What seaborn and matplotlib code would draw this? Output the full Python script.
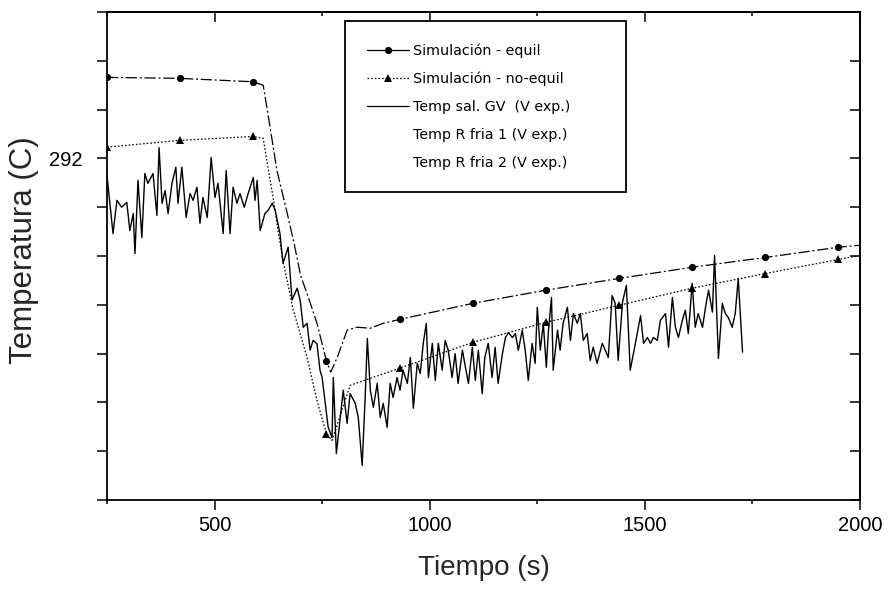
import numpy as np
import matplotlib
matplotlib.use("Agg")
import matplotlib.pyplot as plt
import seaborn as sns
from matplotlib.lines import Line2D
from matplotlib.ticker import MultipleLocator, FixedLocator, FuncFormatter

# ---------------- data ----------------
equil_t = [250, 420, 590, 613, 629, 645, 669, 685, 700, 720, 738, 760, 770, 785, 808, 831,
           862, 892, 930, 1100, 1270, 1440, 1610, 1780, 1950, 2000]
equil_T = [293.66, 293.64, 293.57, 293.50, 292.64, 291.75, 290.87, 290.25, 289.60, 289.10,
           288.62, 287.85, 287.62, 287.92, 288.48, 288.54, 288.52, 288.62, 288.70, 289.03,
           289.30, 289.54, 289.77, 289.97, 290.18, 290.22]

noeq_t = [250, 420, 590, 613, 624, 636, 648, 659, 683, 715, 738, 760, 773, 815, 930,
          1100, 1270, 1440, 1610, 1780, 1950, 2000]
noeq_T = [292.23, 292.37, 292.45, 292.41, 291.82, 291.20, 290.50, 289.90, 288.89, 287.92,
          287.04, 286.36, 286.22, 287.35, 287.70, 288.23, 288.64, 288.99, 289.34, 289.64,
          289.93, 290.01]

marker_t = [250, 420, 590, 760, 930, 1100, 1270, 1440, 1610, 1780, 1950]

exp_t = [250, 264, 273, 284, 296, 303, 311, 315, 322, 331, 338, 345, 357, 366, 371, 378,
         385, 392, 401, 410, 415, 424, 434, 443, 450, 459, 466, 473, 483, 492, 501, 508,
         520, 527, 536, 543, 552, 559, 569, 578, 590, 594, 599, 606, 617, 624, 634, 641,
         652, 659, 671, 680, 692, 699, 706, 715, 722, 729, 738, 745, 750, 764, 773, 776,
         783, 792, 799, 808, 815, 827, 834, 843, 850, 855, 862, 869, 878, 885, 892, 901,
         908, 915, 924, 931, 938, 948, 955, 962, 971, 978, 985, 992, 997, 1006, 1013, 1020,
         1029, 1036, 1043, 1052, 1059, 1066, 1076, 1083, 1090, 1099, 1106, 1113, 1122, 1128,
         1136, 1145, 1152, 1159, 1169, 1176, 1183, 1192, 1199, 1206, 1215, 1222, 1229, 1238,
         1245, 1250, 1257, 1264, 1271, 1276, 1283, 1287, 1297, 1303, 1310, 1320, 1327, 1334,
         1343, 1350, 1357, 1366, 1373, 1380, 1389, 1401, 1408, 1415, 1424, 1431, 1438, 1448,
         1457, 1466, 1478, 1490, 1497, 1506, 1513, 1520, 1529, 1536, 1548, 1555, 1564, 1571,
         1578, 1587, 1594, 1601, 1610, 1617, 1624, 1634, 1641, 1648, 1657, 1662, 1671, 1680,
         1687, 1694, 1703, 1710, 1717, 1727]
exp_T = [291.65, 290.46, 291.14, 291.00, 291.10, 290.52, 290.87, 290.05, 291.55, 290.38,
         291.69, 291.49, 291.69, 290.83, 292.22, 291.08, 291.34, 290.87, 291.49, 291.82,
         291.08, 291.82, 290.79, 291.28, 291.14, 291.41, 290.67, 291.20, 290.79, 292.02,
         291.20, 291.49, 290.46, 291.75, 290.46, 291.41, 291.08, 291.28, 291.00, 291.28,
         291.61, 291.14, 291.55, 290.52, 290.87, 290.93, 291.08, 290.93, 290.46, 289.85,
         290.18, 289.10, 289.34, 289.09, 288.54, 288.62, 288.07, 288.27, 288.20, 287.66,
         287.51, 286.49, 286.28, 287.51, 285.95, 286.69, 287.25, 286.57, 287.18, 286.98,
         286.69, 285.71, 287.10, 288.31, 287.25, 286.90, 287.39, 286.69, 286.98, 286.49,
         287.39, 287.10, 287.51, 287.25, 287.66, 287.39, 287.92, 286.88, 287.80, 287.59,
         288.21, 288.62, 287.51, 288.21, 287.45, 288.21, 287.66, 288.27, 288.07, 287.51,
         288.00, 287.39, 288.07, 287.72, 287.39, 288.13, 287.45, 288.07, 287.18, 287.92,
         288.21, 287.51, 288.13, 287.39, 288.00, 288.33, 288.43, 288.33, 288.41, 288.07,
         288.48, 288.07, 287.45, 288.21, 287.80, 288.95, 288.07, 288.62, 287.72, 288.48,
         289.15, 287.66, 288.48, 288.07, 288.62, 288.95, 288.27, 288.82, 288.62, 288.82,
         288.27, 288.41, 287.86, 288.13, 287.80, 288.21, 288.07, 287.92, 289.19, 289.03,
         287.86, 289.05, 289.40, 287.66, 288.21, 288.78, 288.21, 288.33, 288.21, 288.33,
         288.27, 288.68, 288.82, 288.13, 289.15, 288.54, 288.33, 288.68, 288.89, 288.41,
         289.44, 288.54, 288.82, 288.54, 288.95, 289.30, 288.85, 290.01, 287.90, 289.03,
         288.82, 288.74, 288.54, 288.82, 289.54, 288.03]

legend_labels = ["Simulación - equil", "Simulación - no-equil", "Temp sal. GV  (V exp.)",
                 "Temp R fria 1 (V exp.)", "Temp R fria 2 (V exp.)"]
x_ticks_major = [500, 1000, 1500, 2000]
y_label_ticks = [292]

# ---------------- style ----------------
sns.set_theme(style="white")
plt.rcParams['font.family'] = ['Liberation Sans', 'DejaVu Sans']

fig = plt.figure(figsize=(8.89, 5.90), dpi=100)
ax = fig.add_axes([107/889, 1 - 500/590, (860 - 107)/889, (500 - 12)/590])

eq_dash = (0, (9, 2.2, 1.6, 2.2))
ne_dash = (0, (1.3, 1.6))

eq_every = [equil_t.index(t) for t in marker_t]
ne_every = [noeq_t.index(t) for t in marker_t]

sns.lineplot(x=exp_t, y=exp_T, ax=ax, color='black', lw=1.0, sort=False, estimator=None)
sns.lineplot(x=equil_t, y=equil_T, ax=ax, color='black', lw=0.9, sort=False, estimator=None,
             linestyle=eq_dash, marker='o', markersize=5.2, markevery=eq_every,
             markeredgewidth=0)
sns.lineplot(x=noeq_t, y=noeq_T, ax=ax, color='black', lw=0.9, sort=False, estimator=None,
             linestyle=ne_dash, marker='^', markersize=5.8, markevery=ne_every,
             markeredgewidth=0)

ax.set_xlim(250, 2000)
ax.set_ylim(285, 295)

# ticks
ax.xaxis.set_major_locator(FixedLocator(x_ticks_major))
ax.xaxis.set_minor_locator(MultipleLocator(250))
ax.yaxis.set_major_locator(MultipleLocator(1))
ax.yaxis.set_major_formatter(FuncFormatter(lambda v, p: f"{v:.0f}" if round(v) in y_label_ticks else ""))
ax.tick_params(axis='both', which='major', direction='out', length=7.5, width=1.1,
               color='black', labelsize=14.5, labelcolor='black', bottom=True, left=True)
ax.tick_params(axis='x', which='minor', direction='out', length=3, width=1.1,
               color='black', bottom=True)
ax.tick_params(axis='x', which='major', pad=4)
ax.tick_params(axis='y', which='major', pad=10)

secx = ax.secondary_xaxis('top')
secx.xaxis.set_major_locator(FixedLocator(x_ticks_major))
secx.xaxis.set_minor_locator(MultipleLocator(250))
secx.tick_params(axis='x', which='major', direction='in', length=7.5, width=1.1,
                 color='black', labeltop=False)
secx.tick_params(axis='x', which='minor', direction='in', length=3, width=1.1, color='black')
secx.spines['top'].set_linewidth(1.3)
secx.spines['top'].set_color('black')

secy = ax.secondary_yaxis('right')
secy.yaxis.set_major_locator(MultipleLocator(1))
secy.tick_params(axis='y', which='major', direction='in', length=7.5, width=1.1,
                 color='black', labelright=False)
secy.spines['right'].set_linewidth(1.3)
secy.spines['right'].set_color('black')

for s in ax.spines.values():
    s.set_linewidth(1.3)
    s.set_color('black')
    s.set_visible(True)

ax.set_xlabel("Tiempo (s)", fontsize=20, va='top')
ax.set_ylabel("Temperatura (C)", fontsize=22.5)
ax.xaxis.set_label_coords(0.5, -0.112)
ax.yaxis.set_label_coords(-0.090, 0.512)

handles = [
    Line2D([], [], color='black', lw=0.9, marker='o', markersize=5.2, markeredgewidth=0),
    Line2D([], [], color='black', lw=0.9, linestyle=ne_dash, marker='^', markersize=5.8,
           markeredgewidth=0),
    Line2D([], [], color='black', lw=0.9),
    Line2D([], [], color='none', lw=0),
    Line2D([], [], color='none', lw=0),
]
leg = ax.legend(handles, legend_labels, loc='upper left',
                bbox_to_anchor=(0.316, 0.631, 0.373, 0.3506), mode='expand',
                frameon=True, fancybox=False,
                framealpha=1, edgecolor='black',
                prop={'family': ['DejaVu Sans'], 'size': 10.3},
                handlelength=2.9, handletextpad=0.3, labelspacing=0.98,
                borderpad=1.55, borderaxespad=0)
leg.get_frame().set_linewidth(1.3)
for t in leg.get_texts():
    t.set_color('black')

fig.savefig("out.png", dpi=100, facecolor='white')
